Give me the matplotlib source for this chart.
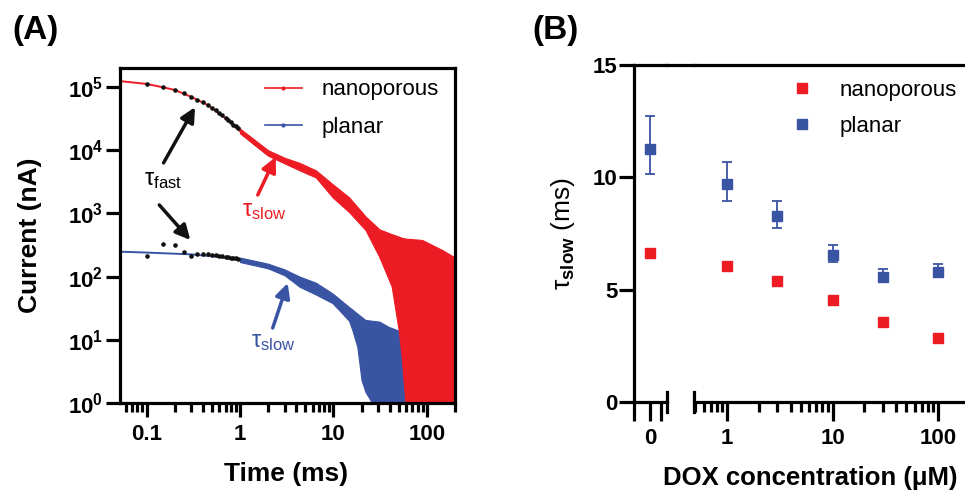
import matplotlib
matplotlib.use('Agg')
import matplotlib.pyplot as plt
from matplotlib.lines import Line2D
from matplotlib.ticker import NullLocator, LogLocator, FixedLocator, NullFormatter

plt.rcParams['font.family'] = ['Liberation Sans', 'DejaVu Sans']
plt.rcParams['mathtext.fontset'] = 'custom'
plt.rcParams['mathtext.rm'] = 'Liberation Sans'
plt.rcParams['mathtext.it'] = 'Liberation Sans:italic'
plt.rcParams['mathtext.bf'] = 'Liberation Sans:bold'

RED = '#ED1C24'
BLUE = '#3A54A4'

# ---------------- panel A data ----------------
red_t = [0.052, 0.1, 0.15, 0.2, 0.3, 0.45, 0.7, 1.0, 1.4, 1.9, 2.5, 3.5, 4.5, 6.5, 10, 15, 22]
red_i = [1.24e5, 1.12e5, 9.9e4, 9.0e4, 7.0e4, 5.2e4, 3.2e4, 2.0e4, 1.28e4, 8.9e3, 7.4e3,
         6.3e3, 5.6e3, 4.2e3, 2.25e3, 1.4e3, 700]
red_band_t = [1, 2, 3, 4.35, 6.5, 9.8, 14.7, 22, 31, 42, 50, 54, 59, 89, 145, 200]
red_band_hi = [2.2e4, 1.0e4, 7.6e3, 6.3e3, 4.8e3, 2.9e3, 1.8e3, 900, 560, 470, 430, 410,
               400, 380, 265, 200]
red_band_lo = [1.85e4, 8.2e3, 6.2e3, 4.8e3, 3.7e3, 1.8e3, 1.05e3, 550, 205, 70, 14, 5,
               1, 1, 1, 1]

blue_t = [0.052, 0.1, 0.3, 0.6, 1.0, 1.6, 2.5, 3.4, 5, 6.5, 8, 10, 14, 18, 22]
blue_i = [248, 240, 225, 205, 183, 152, 125, 106, 85, 72, 60, 46, 28, 20, 14]
blue_band_t = [1, 2, 3, 4.35, 6.5, 9.8, 14.7, 16, 18, 20, 22, 26, 31, 39, 50, 64, 90, 120]
blue_band_hi = [200, 160, 130, 100, 80, 54, 33, 30, 26, 23, 20.6, 20, 19.4, 16, 14, 9, 6, 4]
blue_band_lo = [170, 135, 105, 69, 52, 38, 20, 14, 7.8, 2.3, 1.5, 1, 1, 1, 1, 1, 1, 1]

fit_red_t = [0.1, 0.15, 0.2, 0.25, 0.3, 0.35, 0.4, 0.45, 0.5, 0.55, 0.6, 0.65, 0.7,
             0.75, 0.8, 0.85, 0.9, 0.95]
fit_red_i = [1.12e5, 9.9e4, 8.9e4, 7.9e4, 7.0e4, 6.3e4, 5.7e4, 5.2e4, 4.7e4, 4.3e4,
             3.9e4, 3.55e4, 3.25e4, 3.0e4, 2.75e4, 2.55e4, 2.4e4, 2.24e4]
fit_blue_t = [0.1, 0.15, 0.2, 0.25, 0.3, 0.35, 0.4, 0.45, 0.5, 0.55, 0.6, 0.65, 0.7,
              0.75, 0.8, 0.85, 0.9, 0.95]
fit_blue_i = [214, 328, 320, 248, 211, 224, 230, 228, 223, 218, 215, 210, 207, 205,
              200, 197, 194, 190]

a_xticks = [0.1, 1, 10, 100]
a_xlabels = ['0.1', '1', '10', '100']
a_yticks = [1, 10, 100, 1e3, 1e4, 1e5]
a_ylabels = [r'$\mathbf{10^{%d}}$' % k for k in range(6)]

# ---------------- panel B data ----------------
dox = [1, 3, 10, 30, 100]
nano_zero = 6.65
nano_tau = [6.05, 5.38, 4.56, 3.55, 2.83]
planar_zero = 11.25
planar_zero_err = ([1.12], [1.49])
planar_tau = [9.69, 8.28, 6.54, 5.58, 5.80]
planar_lo = [0.75, 0.55, 0.32, 0.25, 0.25]
planar_hi = [1.01, 0.65, 0.45, 0.34, 0.34]

W, H = 965, 496
fig = plt.figure(figsize=(W / 100, H / 100), dpi=100)


def px_axes(x0, y0, x1, y1):
    return fig.add_axes([x0 / W, 1 - y1 / H, (x1 - x0) / W, (y1 - y0) / H])


LW = 2.3

# ================= panel A =================
ax = px_axes(120, 68, 455, 403)
ax.set_xscale('log')
ax.set_yscale('log')

ax.fill_between(blue_band_t, blue_band_lo, blue_band_hi, color=BLUE, lw=0.8, edgecolor=BLUE)
ax.plot(blue_t, blue_i, color=BLUE, lw=1.4)
ax.fill_between(red_band_t, red_band_lo, red_band_hi, color=RED, lw=0.8, edgecolor=RED)
ax.plot(red_t, red_i, color=RED, lw=1.4)
ax.plot(fit_red_t, fit_red_i, 'o', color='#111111', ms=2.3, ls='none')
ax.plot(fit_blue_t, fit_blue_i, 'o', color='#111111', ms=2.3, ls='none')

ax.set_xlim(0.052, 200)
ax.set_ylim(1, 2e5)
ax.set_xticks(a_xticks)
ax.set_xticklabels(a_xlabels)
ax.xaxis.set_minor_locator(LogLocator(base=10, subs=range(2, 10)))
ax.xaxis.set_minor_formatter(NullFormatter())
ax.set_yticks(a_yticks)
ax.set_yticklabels(a_ylabels)
ax.yaxis.set_minor_locator(NullLocator())
for s in ax.spines.values():
    s.set_linewidth(LW)
ax.tick_params(which='major', length=10, width=LW, labelsize=16, pad=5)
ax.tick_params(axis='y', which='major', pad=2)
ax.tick_params(which='minor', length=6.5, width=LW)
for lab in ax.get_xticklabels() + ax.get_yticklabels():
    lab.set_fontweight('bold')
ax.set_xlabel('Time (ms)', fontsize=19, fontweight='bold')
ax.xaxis.set_label_coords(0.496, -0.176)
ax.set_ylabel('Current (nA)', fontsize=19, fontweight='bold')
ax.yaxis.set_label_coords(-0.233, 0.5)

arrow_k = dict(arrowstyle='-|>', color='#111111', lw=2.5, mutation_scale=22,
               shrinkA=0, shrinkB=0)
ax.annotate('', xy=(0.33, 4.8e4), xytext=(0.152, 6.3e3), arrowprops=arrow_k)
ax.annotate('', xy=(0.294, 380), xytext=(0.137, 1.36e3), arrowprops=arrow_k)
ax.text(0.152, 3.4e3, r'$\mathrm{τ_{fast}}$', fontsize=17, ha='center', va='center')
ax.annotate('', xy=(2.41, 7.8e3), xytext=(1.55, 1.96e3),
            arrowprops=dict(arrow_k, color=RED))
ax.text(1.84, 1.1e3, r'$\mathrm{τ_{slow}}$', fontsize=17, ha='center', va='center', color=RED)
ax.annotate('', xy=(3.24, 79), xytext=(2.24, 15.4),
            arrowprops=dict(arrow_k, color=BLUE))
ax.text(2.3, 9.2, r'$\mathrm{τ_{slow}}$', fontsize=17, ha='center', va='center', color=BLUE)

hA = [Line2D([], [], color=RED, lw=1.2, marker='o', ms=2),
      Line2D([], [], color=BLUE, lw=1.2, marker='o', ms=2)]
ax.legend(hA, ['nanoporous', 'planar'], loc='upper left', bbox_to_anchor=(0.433, 0.966),
          frameon=False, fontsize=16, borderpad=0, borderaxespad=0,
          handlelength=1.66, handletextpad=0.9, labelspacing=0.75)

fig.text(12 / W, 1 - 31 / H, '(A)', fontsize=24, fontweight='bold', va='center')

# ================= panel B =================
ylo, yhi = 0, 15
axL = px_axes(634, 65, 667, 402)
axR = px_axes(694, 65, 965, 402)

axL.plot([0], [nano_zero], 's', color=RED, ms=7.8, clip_on=False)
axL.errorbar([0], [planar_zero], yerr=planar_zero_err, fmt='s', color=BLUE, ms=7.8,
             elinewidth=1.3, capsize=3.5, capthick=1.3, clip_on=False)
axR.plot(dox, nano_tau, 's', color=RED, ms=7.8, ls='none', label='nanoporous', clip_on=False)
axR.errorbar(dox, planar_tau, yerr=[planar_lo, planar_hi], fmt='s', color=BLUE, ms=7.8,
             elinewidth=1.3, capsize=3.5, capthick=1.3, label='planar', clip_on=False)

for a in (axL, axR):
    a.set_ylim(ylo, yhi)
    a.spines['right'].set_visible(False)
    for s in a.spines.values():
        s.set_linewidth(LW)

axL.set_xlim(-0.5, 0.53)
axL.xaxis.set_major_locator(FixedLocator([-0.5, 0, 0.34]))
axL.set_xticklabels(['', '0', ''])
axL.set_yticks([0, 5, 10, 15])
axL.tick_params(axis='x', which='major', length=14, width=LW, labelsize=16, pad=5)
axL.tick_params(axis='y', which='major', length=10.5, width=LW, labelsize=16, pad=1.5)
for lab in axL.get_xticklabels() + axL.get_yticklabels():
    lab.set_fontweight('bold')

axR.set_xscale('log')
axR.set_xlim(0.487, 180)
axR.spines['left'].set_visible(False)
axR.set_yticks([])
axR.set_xticks([1, 10, 100])
axR.set_xticklabels(['1', '10', '100'])
axR.xaxis.set_minor_locator(LogLocator(base=10, subs=range(2, 10)))
axR.xaxis.set_minor_formatter(NullFormatter())
axR.tick_params(axis='x', which='major', length=14, width=LW, labelsize=16, pad=5)
axR.tick_params(axis='x', which='minor', length=7.5, width=LW)
for lab in axR.get_xticklabels():
    lab.set_fontweight('bold')

# axis break bars and top line across the gap
bar = 10 / 337
axL.plot([1, 1], [-bar, bar], transform=axL.transAxes, color='k', lw=LW, clip_on=False)
axR.plot([0, 0], [-bar, bar], transform=axR.transAxes, color='k', lw=LW, clip_on=False)
fig.add_artist(Line2D([666 / W, 695 / W], [1 - 65 / H] * 2, color='k', lw=LW))

axL.set_ylabel(r'$\mathrm{τ}_{\mathbf{slow}}$ (ms)', fontsize=19)
axL.yaxis.set_label_coords(-1.73, 0.5)
fig.text(810 / W, 1 - 478 / H, 'DOX concentration (μM)', fontsize=18.5, fontweight='bold',
         ha='center', va='center')

hB = [Line2D([], [], color=RED, marker='s', ms=7.8, ls='none'),
      Line2D([], [], color=BLUE, marker='s', ms=7.8, ls='none')]
axR.legend(hB, ['nanoporous', 'planar'], loc='upper left', bbox_to_anchor=(0.358, 0.955),
           frameon=False, fontsize=16, borderpad=0, borderaxespad=0,
           handlelength=1.0, handletextpad=1.2, labelspacing=0.65)

fig.text(532 / W, 1 - 31 / H, '(B)', fontsize=24, fontweight='bold', va='center')

fig.savefig('out.png', dpi=100)
